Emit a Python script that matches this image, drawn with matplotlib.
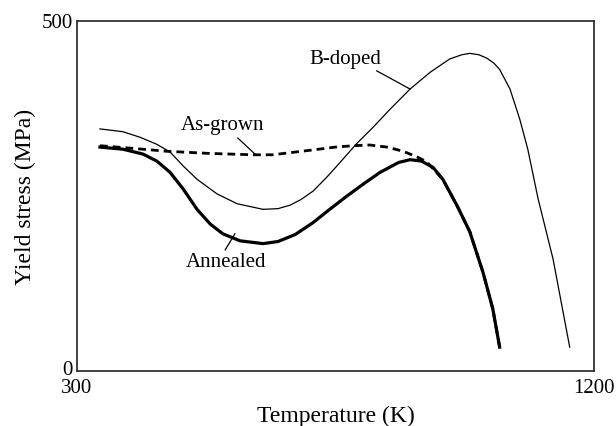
import matplotlib
matplotlib.use('Agg')
import matplotlib.pyplot as plt
from matplotlib.transforms import offset_copy

# values (temperature in K, stress in MPa)
t_bdoped = [340, 380, 410, 439, 462, 485, 509, 544, 579, 624, 650, 671, 690,
            711, 735, 758, 787, 814, 845, 880, 915, 949, 970, 984, 1000, 1014,
            1026, 1036, 1054, 1071, 1085, 1103, 1129, 1158]
s_bdoped = [346, 342, 334, 324, 313, 293, 274, 253, 239, 231, 232, 237, 245,
            257, 277, 298, 325, 347, 374, 403, 427, 446, 452, 454, 452, 447,
            440, 431, 403, 360, 317, 246, 160, 34]

t_annealed = [340, 380, 415, 439, 462, 485, 509, 532, 554, 584, 624, 650, 680,
              711, 740, 770, 800, 828, 860, 880, 900, 920, 937, 962, 984,
              1007, 1024, 1036]
s_annealed = [320, 317, 310, 300, 284, 260, 231, 210, 196, 186, 182, 185, 195,
              212, 231, 250, 268, 284, 298, 302, 300, 291, 274, 236, 199,
              141, 89, 34]

t_asgrown = [340, 400, 457, 530, 606, 640, 671, 711, 750, 781, 810, 840, 868,
             892, 909, 937, 962, 984, 1007, 1024, 1036]
s_asgrown = [322, 318, 314, 311, 309, 309, 312, 316, 320, 322, 323, 320, 314,
             306, 299, 274, 236, 199, 141, 89, 34]

x_ticks = [300, 1200]
y_ticks = [0, 500]

plt.rcParams['font.family'] = ['Liberation Serif', 'DejaVu Serif']

fig = plt.figure(figsize=(6.16, 4.27), dpi=100)
ax = fig.add_axes([0.125, 0.129, 0.839, 0.819])

ax.plot(t_bdoped, s_bdoped, color='black', lw=0.9, solid_joinstyle='round')
ax.plot(t_asgrown, s_asgrown, color='black', lw=2.0, linestyle=(0, (2.8, 1.8)))
ax.plot(t_annealed, s_annealed, color='black', lw=2.3, solid_joinstyle='round')

# curve labels with leader lines
ax.text(767, 446, 'B-doped', fontsize=15, ha='center', va='center')
ax.plot([822, 880], [429, 403], color='black', lw=0.9)
ax.text(554, 353, 'As-grown', fontsize=15, ha='center', va='center')
ax.plot([580, 610], [333, 310], color='black', lw=0.9)
ax.text(559, 157, 'Annealed', fontsize=15, ha='center', va='center')
ax.plot([558, 575], [173, 196], color='black', lw=0.9)

ax.set_xlim(300, 1200)
ax.set_ylim(0, 500)
ax.set_xticks(x_ticks)
ax.set_yticks(y_ticks)
ax.tick_params(length=0, labelsize=15)
ax.tick_params(axis='x', pad=5)
ax.tick_params(axis='y', pad=3)
# nudge the "0" up a little so it sits above "300"
lbl0 = ax.get_yticklabels()[0]
lbl0.set_transform(offset_copy(lbl0.get_transform(), fig=fig, y=3, units='points'))
lbl5 = ax.get_yticklabels()[1]
lbl5.set_transform(offset_copy(lbl5.get_transform(), fig=fig, y=1, units='points'))

for sp in ax.spines.values():
    sp.set_color('#333333')
    sp.set_linewidth(1.3)

ax.set_xlabel('Temperature (K)', fontsize=17, labelpad=6)
ax.set_ylabel('Yield stress (MPa)', fontsize=17, labelpad=4)

fig.savefig('out.png', dpi=100)
